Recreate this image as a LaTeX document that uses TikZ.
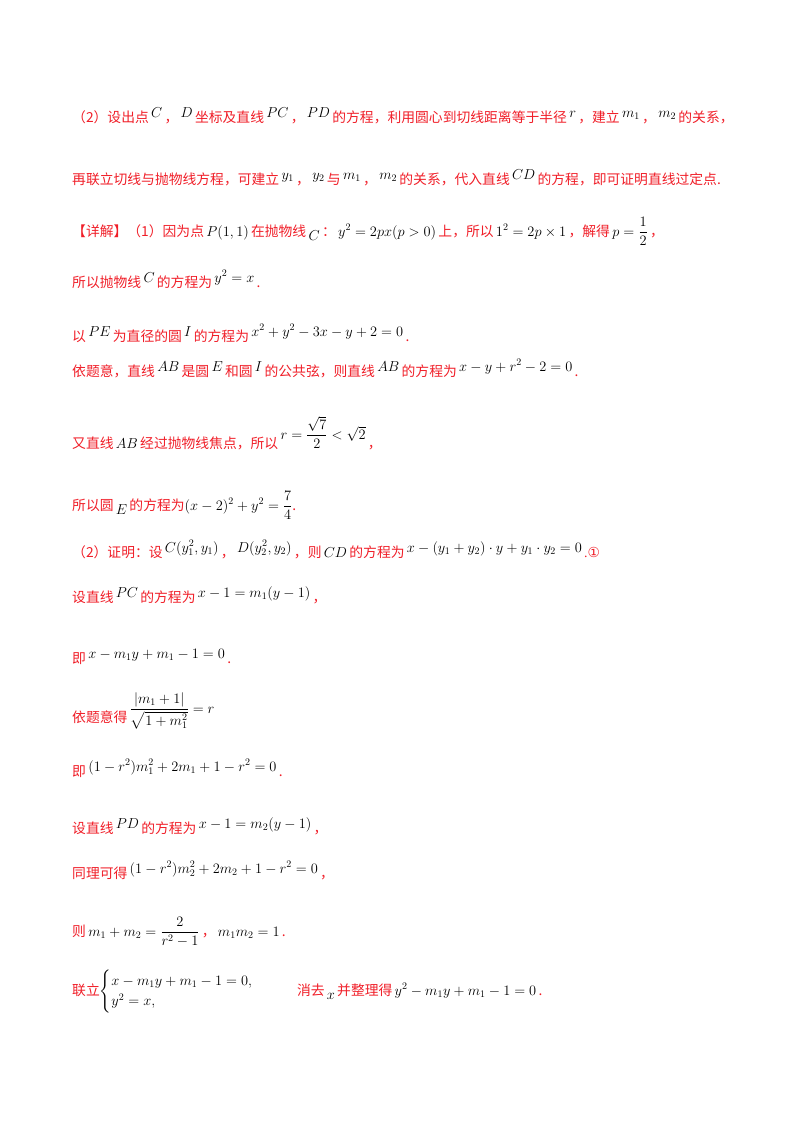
\documentclass[tikz,border=0pt]{standalone}
\usepackage{amsmath}
\usepackage{fontspec}
\setmainfont{Liberation Serif}
\newfontfamily\cjk{Noto Sans CJK SC}
\newfontfamily\dv{DejaVu Sans}
\definecolor{redt}{RGB}{240,30,40}
\newcommand{\R}[1]{{\color{redt}\cjk #1}}
\newcommand{\up}[1]{\,\raisebox{5pt}{$#1$}\,}
\newcommand{\dn}[1]{\,\raisebox{-4pt}{$#1$}\,}
\newcommand{\mm}[1]{\,$#1$\,}
\tikzset{ln/.style={anchor=base west,inner sep=0pt,font=\fontsize{13.8}{17}\selectfont}}
\begin{document}
\begin{tikzpicture}[x=1pt,y=-1pt]
\useasboundingbox (0,0) rectangle (800,1132);
\node[ln] (l1) at (72,122) {\R{（2）设出点}\up{C}\R{，}\up{D}\R{坐标及直线}\up{PC}\R{，}\up{PD}\R{的方程，利用圆心到切线距离等于半径}\up{r}\R{，建立}\up{m_1}\R{，}\up{m_2}\R{的关系，}};
\node[ln] (l2) at (72,184) {\R{再联立切线与抛物线方程，可建立}\up{y_1}\R{，}\up{y_2}\R{与}\up{m_1}\R{，}\up{m_2}\R{的关系，代入直线}\up{CD}\R{的方程，即可证明直线过定点.}};
\node[ln] (l3) at (72,236) {\R{【详解】（1）因为点}\mm{P(1,1)}\R{在抛物线}\dn{C}\R{：}\mm{y^2=2px(p>0)}\R{上，所以}\mm{1^2=2p\times1}\R{，解得}\mm{p=\dfrac12}\R{，}};
\node[ln] (l4) at (72,287) {\R{所以抛物线}\up{C}\R{的方程为}\up{y^2=x}\R{.}};
\node[ln] (l5) at (72,341) {\R{以}\up{PE}\R{为直径的圆}\up{I}\R{的方程为}\up{x^2+y^2-3x-y+2=0}\R{.}};
\node[ln] (l6) at (72,376) {\R{依题意，直线}\up{AB}\R{是圆}\up{E}\R{和圆}\up{I}\R{的公共弦，则直线}\up{AB}\R{的方程为}\up{x-y+r^2-2=0}\R{.}};
\node[ln] (l7) at (72,448) {\R{又直线}\mm{AB}\R{经过抛物线焦点，所以}\,\raisebox{9pt}{$r=\dfrac{\sqrt7}{2}<\sqrt2$}\,\R{，}};
\node[ln] (l8) at (72,510) {\R{所以圆}\dn{E}\R{的方程为}$(x-2)^2+y^2=\dfrac74$\R{.}};
\node[ln] (l9) at (72,557) {\R{（2）证明：设}\up{C(y_1^2,y_1)}\R{，}\up{D(y_2^2,y_2)}\R{，则}\mm{CD}\R{的方程为}\up{x-(y_1+y_2)\cdot y+y_1\cdot y_2=0}{\color{redt}.\dv ①}};
\node[ln] (l10) at (72,602) {\R{设直线}\up{PC}\R{的方程为}\up{x-1=m_1(y-1)}\R{，}};
\node[ln] (l11) at (72,663) {\R{即}\up{x-m_1y+m_1-1=0}\R{.}};
\node[ln] (l12) at (72,722) {\R{依题意得}\,\raisebox{9pt}{$\dfrac{|m_1+1|}{\sqrt{1+m_1^2}}=r$}};
\node[ln] (l13) at (72,776) {\R{即}\up{(1-r^2)m_1^2+2m_1+1-r^2=0}\R{.}};
\node[ln] (l14) at (72,833) {\R{设直线}\up{PD}\R{的方程为}\up{x-1=m_2(y-1)}\R{，}};
\node[ln] (l15) at (72,878) {\R{同理可得}\up{(1-r^2)m_2^2+2m_2+1-r^2=0}\R{，}};
\node[ln] (l16) at (72,936) {\R{则}\mm{m_1+m_2=\dfrac{2}{r^2-1}}\R{，}\mm{m_1m_2=1}\R{.}};
\node[ln] (l17) at (72,995) {\R{联立}$\begin{cases}x-m_1y+m_1-1=0,\\ y^2=x,\end{cases}$\hspace{30pt}\R{消去}\dn{x}\R{并整理得}\mm{y^2-m_1y+m_1-1=0}\R{.}};
\end{tikzpicture}
\end{document}
